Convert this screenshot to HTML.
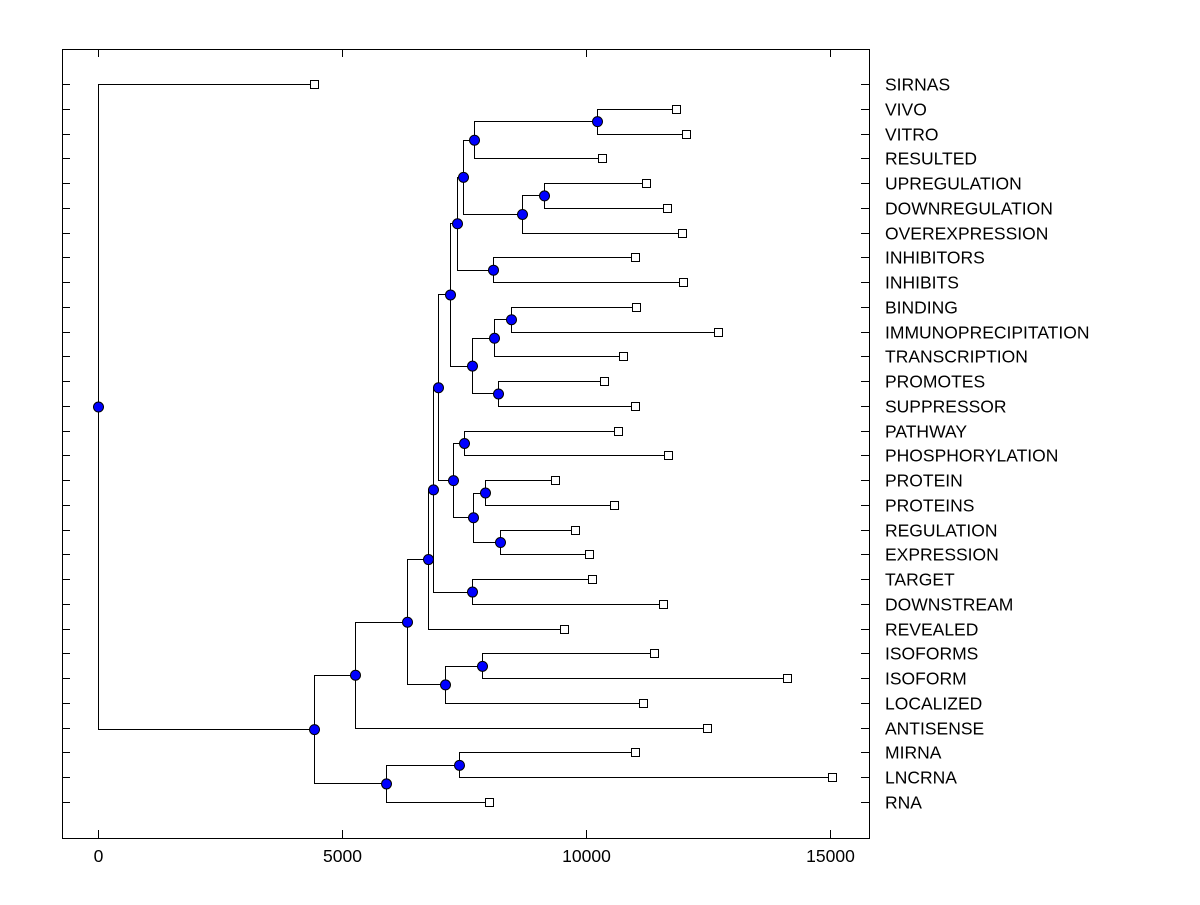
<!DOCTYPE html>
<html><head><meta charset="utf-8"><style>
html,body{margin:0;padding:0;background:#fff;}
svg text{font-family:"Liberation Sans",Arial,sans-serif;font-size:17.5px;fill:#000;}
</style></head><body>
<svg id="chart" width="1200" height="900" viewBox="0 0 1200 900" xmlns="http://www.w3.org/2000/svg">
<rect x="62.5" y="49.5" width="807" height="789" fill="none" stroke="#000" stroke-width="1"/>
<g id="g"></g>
</svg>
<script>
const leafLabels = ["SIRNAS","VIVO","VITRO","RESULTED","UPREGULATION","DOWNREGULATION","OVEREXPRESSION","INHIBITORS","INHIBITS","BINDING","IMMUNOPRECIPITATION","TRANSCRIPTION","PROMOTES","SUPPRESSOR","PATHWAY","PHOSPHORYLATION","PROTEIN","PROTEINS","REGULATION","EXPRESSION","TARGET","DOWNSTREAM","REVEALED","ISOFORMS","ISOFORM","LOCALIZED","ANTISENSE","MIRNA","LNCRNA","RNA"];
const leafValues = [4426,11844,12049,10328,11230,11660,11967,11004,11988,11025,12705,10758,10369,11004,10656,11680,9365,10574,9775,10061,10123,11578,9549,11393,14119,11168,12480,11004,15041,8012];
// merges: [left, right, height]; "L#" = leaf index, "N#" = merge index
const mergeLeft  = ["L1","N0","L4","N2","N1","L7","N4","L9","N7","L12","N8","N6","L14","L16","L18","N13","N12","N11","L20","N17","N19","L23","N21","N20","N23","L27","N25","N24","L0"];
const mergeRight = ["L2","L3","L5","L6","N3","L8","N5","L10","L11","L13","N9","N10","L15","L17","L19","N14","N15","N16","L21","N18","L22","L24","L25","N22","L26","L28","L29","N26","N27"];
const mergeHeights = [10225,7705,9139,8689,7480,8094,7357,8463,8115,8197,7664,7213,7500,7930,8238,7684,7275,6967,7664,6865,6762,7869,7111,6332,5266,7398,5902,4426,0];
const xTicks = [0,5000,10000,15000];

const g = document.getElementById('g');
const NS = 'http://www.w3.org/2000/svg';
const xS = v => 98 + v * (244/5000);
const yS = i => 84 + i * (718/29);
function mk(tag, attrs){const e=document.createElementNS(NS,tag);for(const k in attrs)e.setAttribute(k,attrs[k]);g.appendChild(e);return e;}

leafLabels.forEach((lab,i)=>{
  const y=Math.round(yS(i))+0.5;
  let t=mk('line',{x1:62,x2:70,y1:y,y2:y,stroke:'#000'});
  
  
  t=mk('line',{x1:861,x2:869,y1:y,y2:y,stroke:'#000'});
  
  
  const tx=mk('text',{x:885,y:y+6});
  tx.textContent=lab;
  
  
});
xTicks.forEach(v=>{
  const x=Math.round(xS(v))+0.5;
  let t=mk('line',{x1:x,x2:x,y1:830,y2:838,stroke:'#000'});
  
  
  t=mk('line',{x1:x,x2:x,y1:49,y2:57,stroke:'#000'});
  
  
  const tx=mk('text',{x:x,y:862,'text-anchor':'middle'});
  tx.textContent=String(v);
  
  
});

const nodeX=[], nodeY=[];
function pos(ref){
  const idx=+ref.slice(1);
  if(ref[0]==='L') return [xS(leafValues[idx]), yS(idx)];
  return [nodeX[idx], nodeY[idx]];
}
const circles=[];
mergeHeights.forEach((h,k)=>{
  const a=pos(mergeLeft[k]), b=pos(mergeRight[k]);
  const x=Math.round(xS(h))+0.5;
  const ya=Math.round(a[1])+0.5, yb=Math.round(b[1])+0.5;
  nodeX[k]=x; nodeY[k]=(a[1]+b[1])/2;
  const p=mk('path',{d:`M${a[0]},${ya}H${x}V${yb}H${b[0]}`,fill:'none',stroke:'#000','stroke-width':1});
  
  
  circles.push([x,nodeY[k]]);
});
leafValues.forEach((v,i)=>{
  const r=mk('rect',{x:Math.round(xS(v))-3.5,y:Math.round(yS(i))-3.5,width:8,height:8,fill:'#fff',stroke:'#000'});
  
  
});
circles.forEach(([x,y])=>{
  const c=mk('circle',{cx:x,cy:y+0.5,r:5,fill:'#0000ff',stroke:'#000','stroke-width':1});
  
  
});
</script>
</body></html>
